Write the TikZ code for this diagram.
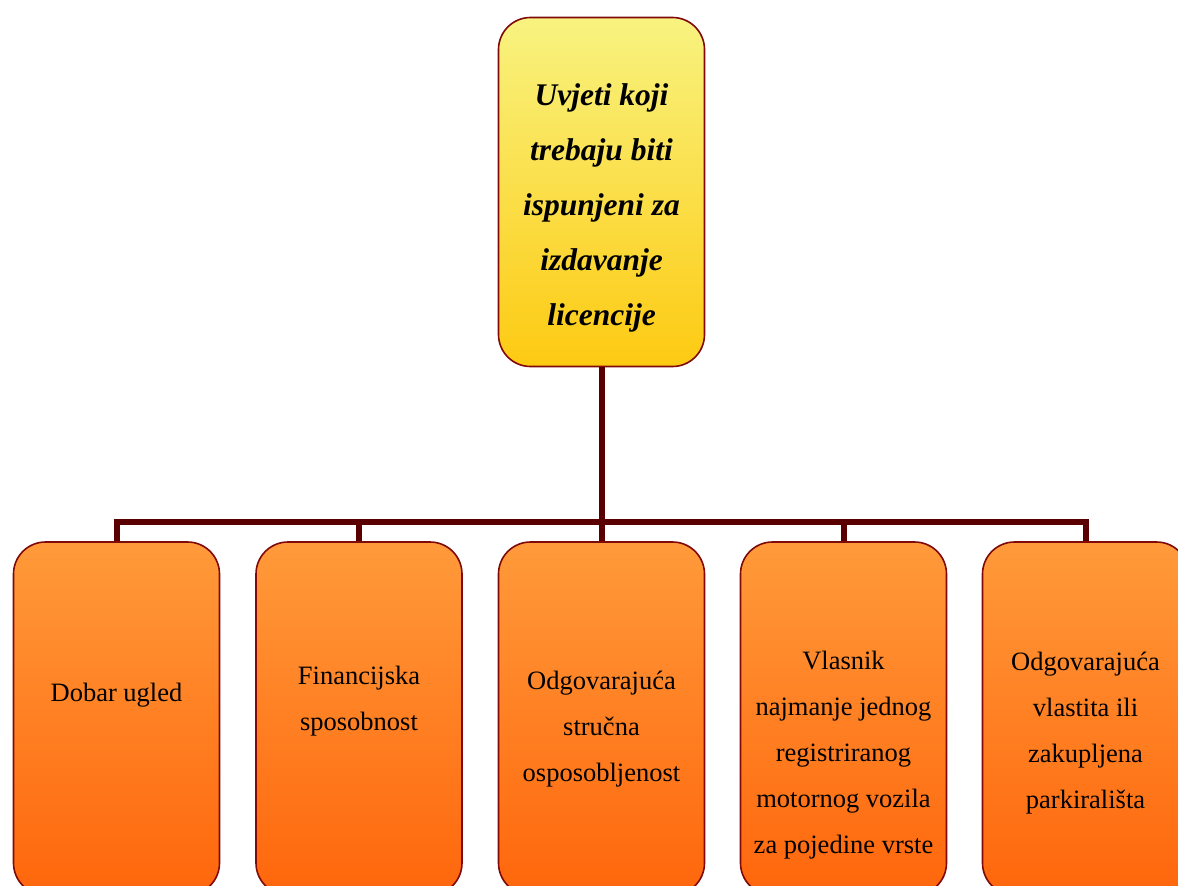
\documentclass[tikz,border=0pt]{standalone}
\usepackage{fontspec}
\setmainfont{Liberation Serif}
\usepackage{tikz}
\usetikzlibrary{positioning}

\begin{document}
\begin{tikzpicture}[x=1pt, y=-1pt, every node/.style={inner sep=0pt},
    topbox/.style={draw=boxedge, line width=1.6pt, rounded corners=32pt, minimum width=206pt, minimum height=349pt, top color=topyellow, bottom color=botyellow},
    lowbox/.style={draw=boxedge, line width=1.6pt, rounded corners=32pt, minimum width=206pt, minimum height=353pt, top color=toporange, bottom color=botorange},
    toptext/.style={align=center, font=\fontsize{31.5}{55}\selectfont\bfseries\itshape},
    lowtext/.style={align=center, font=\fontsize{26.5}{46}\selectfont},
    link/.style={line width=6pt, draw=linkcolor}]
    
    % Define colors
    \definecolor{topyellow}{RGB}{248, 243, 128}
    \definecolor{botyellow}{RGB}{253, 202, 18}
    \definecolor{toporange}{RGB}{255, 154, 58}
    \definecolor{botorange}{RGB}{255, 102, 12}
    \definecolor{boxedge}{RGB}{128, 10, 10}
    \definecolor{linkcolor}{RGB}{90, 0, 0}
    
    % Page frame
    \useasboundingbox (0, 0) rectangle (1178, 886);
    \clip (0, 0) rectangle (1178, 886);
    
    % Top box
    \node[topbox] (uvjeti) at (601.5, 192) {};
    \node[toptext] (uvjetitext) at (601.5, 207.5) {Uvjeti koji\\trebaju biti\\ispunjeni za\\izdavanje\\licencije};
    
    % Lower boxes
    \node[lowbox] (ugled) at (116.5, 718.5) {};
    \node[lowbox] (financije) at (359, 718.5) {};
    \node[lowbox] (struka) at (601.5, 718.5) {};
    \node[lowbox] (vozila) at (843.5, 718.5) {};
    \node[lowbox] (parking) at (1085.5, 718.5) {};
    
    % Lower box texts
    \node[lowtext] (ugledtext) at (116.5, 695.5) {Dobar ugled};
    \node[lowtext] (financijetext) at (359, 701) {Financijska\\sposobnost};
    \node[lowtext] (strukatext) at (601.5, 729) {Odgovarajuća\\stručna\\osposobljenost};
    \node[lowtext] (vozilatext) at (843.5, 755) {Vlasnik\\najmanje jednog\\registriranog\\motornog vozila\\za pojedine vrste};
    \node[lowtext] (parkingtext) at (1085.5, 733) {Odgovarajuća\\vlastita ili\\zakupljena\\parkirališta};
    
    % Connectors
    \coordinate (bar) at (601.5, 521.5);
    \draw[link] (uvjeti.south) -- (struka.north);
    \draw[link] (ugled.north) |- (bar) -| (parking.north);
    \draw[link] (financije.north) -- (financije.north |- bar);
    \draw[link] (vozila.north) -- (vozila.north |- bar);
    
\end{tikzpicture}
\end{document}
